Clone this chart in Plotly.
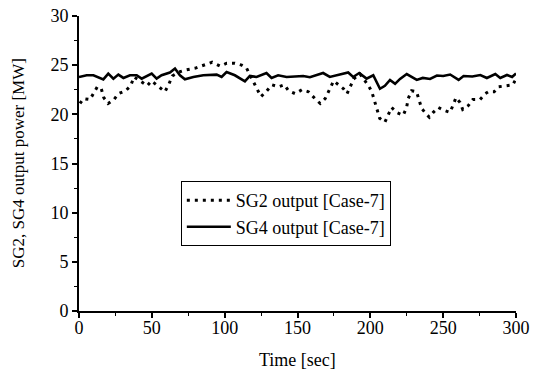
import plotly.graph_objects as go

# ---- data ----
sg2_time = [0.7, 3, 7.5, 9.7, 12.6, 15.3, 17, 20, 24, 27, 32, 35.5, 37.7, 42, 46.8, 49.8, 54.9, 59, 61.8, 64,
            68.6, 73, 80, 85.7, 91.4, 97, 101.4, 107, 111.7, 115, 117.5, 119.8, 122, 124.9, 129, 132.4, 137,
            141, 143.8, 148.5, 153, 157.5, 162, 165.6, 169, 171.3, 174.8, 181.6, 184, 186.2, 188.5, 193,
            198.8, 201, 202.8, 204.6, 206.4, 210, 212.4, 214.6, 218, 222.6, 224.9, 226, 228.3, 231.7, 233.6,
            235.2, 238.6, 240.5, 243.2, 246.7, 250.6, 254.7, 257, 258.8, 261.6, 263.4, 267.3, 270.3, 275.3,
            278.8, 281, 285, 288, 292.5, 297.8, 300]
sg2_power = [21.1, 21.6, 21.5, 22.1, 22.8, 22.6, 21.7, 21.1, 21.5, 22.1, 22.4, 22.9, 23.8, 23.4, 22.9, 23.4,
             22.8, 22.3, 23.1, 23.9, 24.3, 24.5, 24.7, 25.0, 25.3, 24.9, 25.2, 25.2, 25.0, 24.7, 24.0, 23.3,
             22.6, 21.8, 22.4, 23.0, 22.8, 23.0, 22.4, 22.1, 22.5, 22.3, 21.6, 21.1, 21.6, 22.3, 23.4, 22.6,
             22.1, 22.8, 23.6, 24.1, 22.9, 22.3, 21.4, 20.5, 19.6, 19.2, 19.9, 20.7, 20.2, 19.9, 20.7, 21.6,
             22.4, 22.3, 21.4, 20.6, 20.0, 19.7, 20.2, 20.7, 20.4, 20.2, 21.0, 21.7, 21.2, 20.5, 20.9, 21.5,
             21.5, 22.1, 22.3, 22.3, 22.8, 22.9, 23.0, 23.6]

sg4_time = [0, 5.3, 9.9, 16.7, 20.1, 23.6, 27, 30.5, 35, 39.6, 43, 47.6, 49.9, 53.3, 56.7, 62.4, 65.9, 69.3,
            72.7, 78.5, 85.3, 94.5, 97.9, 101.3, 107, 113.9, 117.3, 121.9, 128.7, 132.2, 136.7, 142.5, 153.9,
            158.5, 167.6, 172.2, 179.1, 184.8, 188.2, 192.4, 197.4, 202, 206.6, 210, 213.5, 217, 220.4, 225,
            231.9, 236, 241, 245.7, 250, 254.8, 260.6, 264, 270, 275.5, 280, 285.8, 289.2, 293.8, 297.3, 300]
sg4_power = [23.8, 23.97, 23.97, 23.56, 24.14, 23.63, 24.04, 23.7, 23.97, 23.97, 23.63, 23.97, 24.14, 23.63,
             23.97, 24.25, 24.66, 23.97, 23.56, 23.8, 23.97, 24.04, 23.8, 24.3, 23.97, 23.36, 23.9, 23.8,
             24.2, 23.7, 23.97, 23.8, 23.9, 23.77, 24.2, 23.8, 24.04, 24.25, 23.8, 24.2, 23.63, 23.97, 22.6,
             22.9, 23.5, 23.1, 23.6, 24.1, 23.5, 23.7, 23.6, 23.95, 23.9, 24.05, 23.5, 23.9, 23.85, 24.0,
             23.7, 24.1, 23.7, 24.0, 23.8, 24.15]

series_names = ["SG2 output [Case-7]", "SG4 output [Case-7]"]
x_title = "Time [sec]"
y_title = "SG2, SG4 output power [MW]"

FONT = "Liberation Serif"

fig = go.Figure()
fig.add_trace(go.Scatter(x=sg2_time, y=sg2_power, mode="lines", name=series_names[0],
                         line=dict(color="black", width=3, dash="3px,5px")))
fig.add_trace(go.Scatter(x=sg4_time, y=sg4_power, mode="lines", name=series_names[1],
                         line=dict(color="black", width=2.6)))

axis_common = dict(
    showgrid=False, zeroline=False, showline=True, linecolor="black", linewidth=2,
    ticks="outside", ticklen=5, tickwidth=1.5, tickcolor="black", automargin=False,
    tickfont=dict(family=FONT, size=18, color="black"),
)
fig.update_xaxes(range=[0, 300], tick0=0, dtick=50, ticklabelstandoff=-6,
                 minor=dict(ticks="outside", dtick=25, ticklen=3, tickcolor="black", tickwidth=1),
                 **axis_common)
fig.update_yaxes(range=[0, 30], tick0=0, dtick=5,
                 minor=dict(ticks="outside", dtick=2.5, ticklen=3, tickcolor="black", tickwidth=1),
                 **axis_common)

fig.update_layout(
    width=533, height=372,
    margin=dict(l=79, r=17, t=16, b=61),
    paper_bgcolor="white", plot_bgcolor="white",
    showlegend=True,
    legend=dict(x=0.233, y=0.33, xanchor="left", yanchor="middle",
                bordercolor="black", borderwidth=1, bgcolor="white",
                font=dict(family=FONT, size=18, color="black"),
                tracegroupgap=0, itemwidth=44),
    annotations=[
        dict(text=x_title, xref="paper", yref="paper", x=0.5, y=-0.165, xanchor="center", yanchor="middle",
             showarrow=False, font=dict(family=FONT, size=18, color="black")),
        dict(text=y_title, xref="paper", yref="paper", x=-0.138, y=0.5, xanchor="center", yanchor="middle",
             textangle=-90, showarrow=False, font=dict(family=FONT, size=17, color="black")),
    ],
)

fig.write_html("out.html")
